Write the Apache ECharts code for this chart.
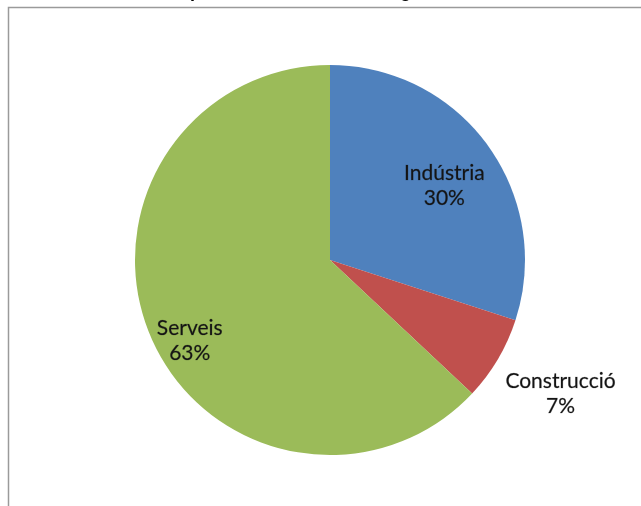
<!DOCTYPE html>
<html><head><meta charset="utf-8">
<script src="https://cdn.jsdelivr.net/npm/echarts@6/dist/echarts.min.js"></script>
<style>html,body{margin:0;padding:0;background:#fff}#c{width:641px;height:506px}</style>
</head><body><div id="c"></div>
<script>
const titleText = 'Composició sectorial de la regió';
const categories = ['Indústria', 'Construcció', 'Serveis'];
const values = [30, 7, 63];
const colors = ['#4F81BD', '#C0504D', '#9BBB59'];
const labelOffsets = [[33, -15], [144, 83], [-48, 41]];

const chart = echarts.init(document.getElementById('c'), null, {renderer: 'canvas'});
chart.setOption({
  backgroundColor: '#fff',
  animation: false,
  title: {
    text: titleText, left: 150, top: -17, padding: 0,
    textStyle: {fontFamily: 'Liberation Sans', fontWeight: 'bold', fontSize: 18, color: '#000'}
  },
  graphic: [{
    type: 'rect', shape: {x: 8.5, y: 7.5, width: 700, height: 600},
    style: {fill: null, stroke: '#9a9a9a', lineWidth: 1.5}, silent: true, z: -1
  }],
  series: [{
    type: 'pie',
    center: [330, 260],
    radius: 195,
    startAngle: 90,
    clockwise: true,
    data: categories.map((n, i) => ({
      name: n, value: values[i],
      itemStyle: {color: colors[i]},
      label: {offset: labelOffsets[i]}
    })),
    itemStyle: {borderWidth: 0},
    label: {
      show: true, position: 'inside',
      formatter: p => p.name + '\n' + Math.round(p.percent) + '%',
      fontFamily: 'Lato', fontSize: 21, lineHeight: 25, color: '#141414', align: 'center',
      textBorderColor: 'rgba(20,20,20,0.35)', textBorderWidth: 0.6
    },
    labelLine: {show: false},
    emphasis: {disabled: true}
  }]
});
</script></body></html>
